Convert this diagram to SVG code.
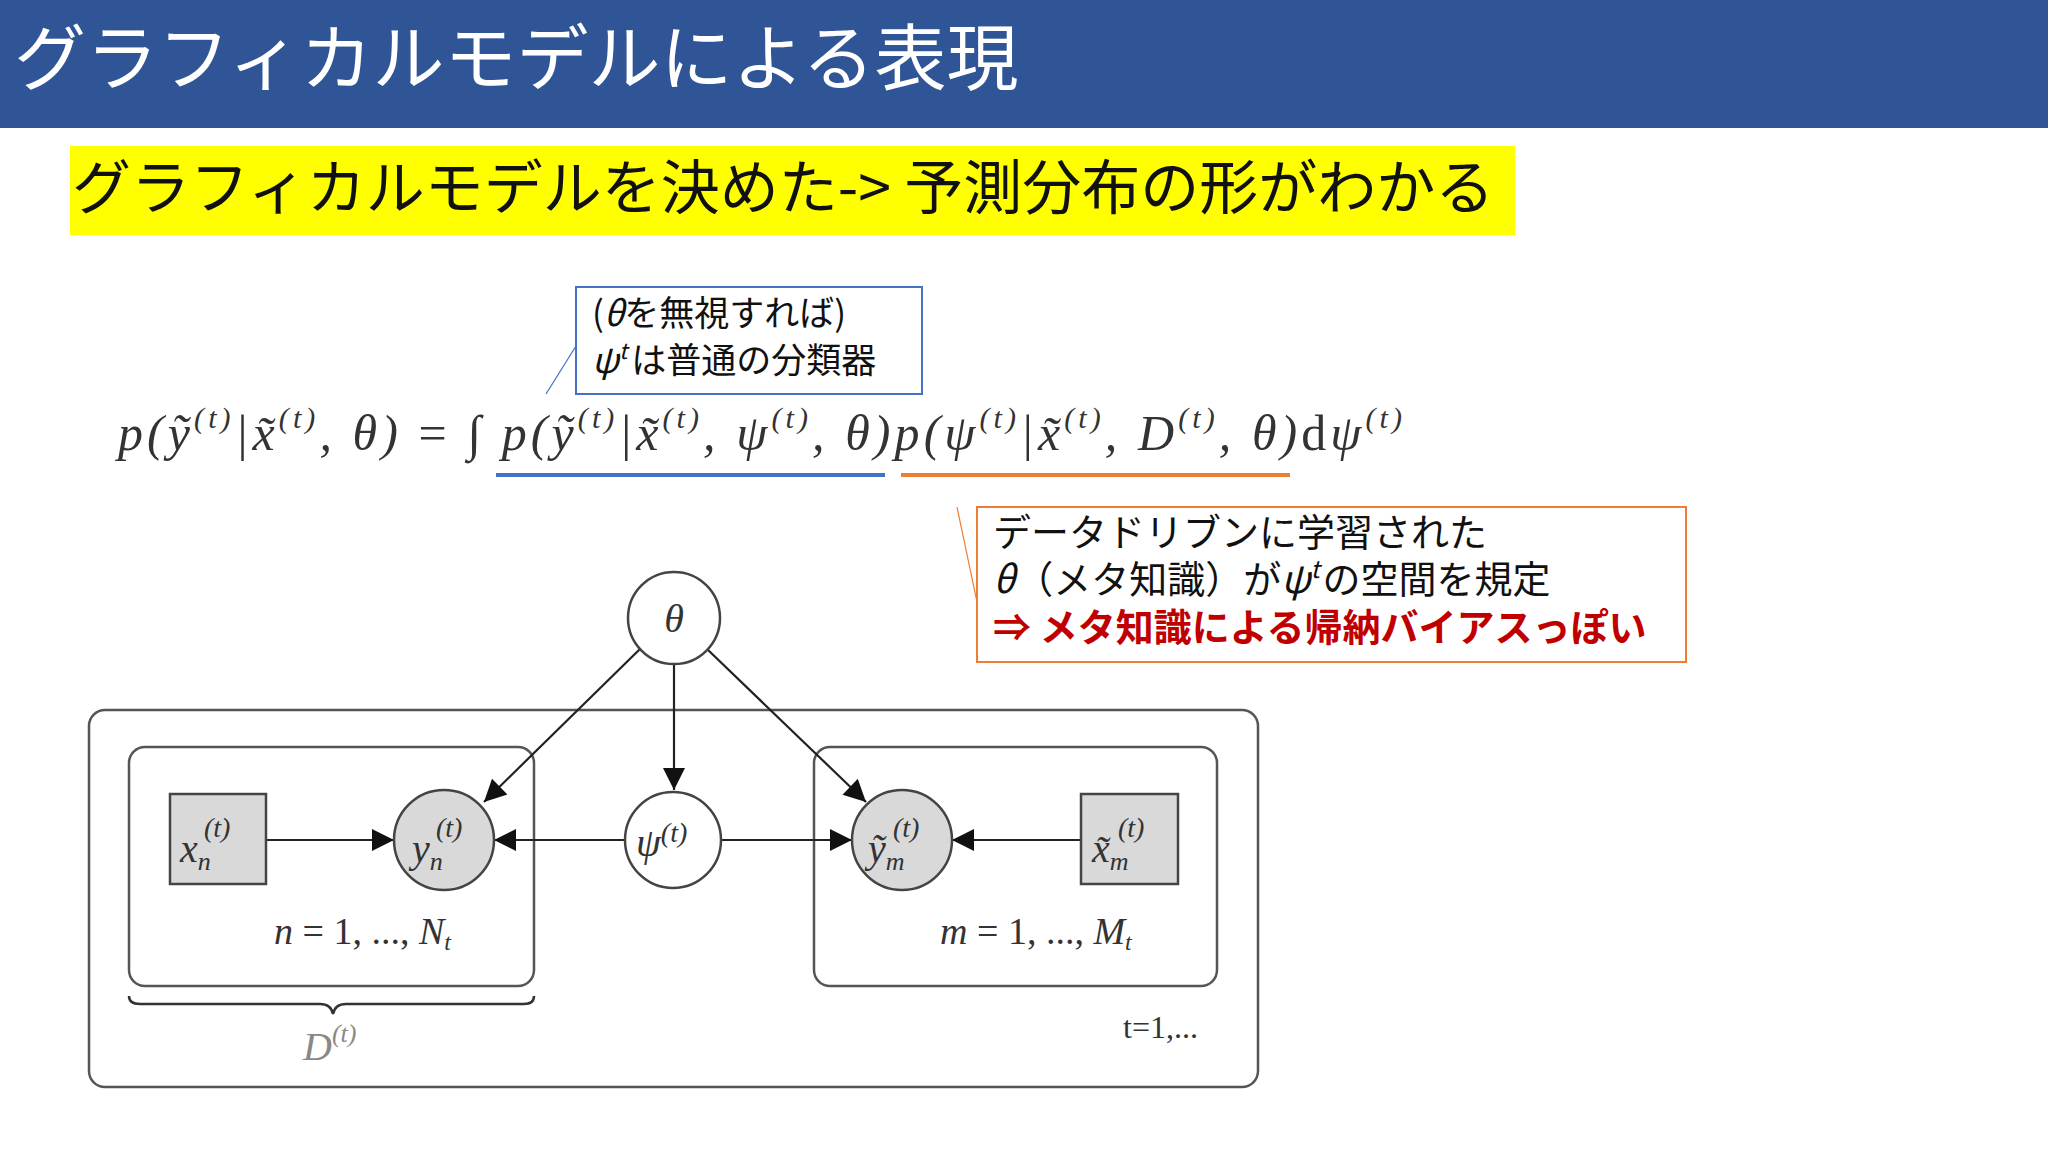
<svg xmlns="http://www.w3.org/2000/svg" width="2048" height="1152" viewBox="0 0 2048 1152">
<defs>
<marker id="a" viewBox="0 0 10 10" refX="10" refY="5" markerWidth="24" markerHeight="22" markerUnits="userSpaceOnUse" orient="auto"><path d="M0,0 L10,5 L0,10 z" fill="#111"/></marker>
<style>
.jp{font-family:"Noto Sans CJK JP","Noto Sans",sans-serif}
.m{font-family:"Liberation Serif",serif;font-style:italic;fill:#333}
.plate{fill:none;stroke:#555;stroke-width:2.5}
.node{stroke:#444;stroke-width:2.5}
.edge{stroke:#222;stroke-width:2.2;fill:none;marker-end:url(#a)}
</style>
</defs>
<rect width="2048" height="1152" fill="#fff"/>
<g id="header">
<rect x="0" y="0" width="2048" height="128" fill="#2F5597"/>
<text x="14" y="84" class="jp" font-size="72" fill="#fff">グラフィカルモデルによる表現</text>
</g>
<g id="subtitle">
<rect x="70" y="146" width="1445" height="89" fill="#FFFF00"/>
<text x="72" y="209" class="jp" font-size="59" fill="#111">グラフィカルモデルを決めた-&gt; 予測分布の形がわかる</text>
</g>
<g id="equation">
<text x="118" y="450" class="m" font-size="50" textLength="1284" lengthAdjust="spacing">p(ỹ<tspan font-size="30" dy="-22">(t)</tspan><tspan dy="22">|x̃</tspan><tspan font-size="30" dy="-22">(t)</tspan><tspan dy="22">, θ) </tspan><tspan font-style="normal">= ∫ </tspan>p(ỹ<tspan font-size="30" dy="-22">(t)</tspan><tspan dy="22">|x̃</tspan><tspan font-size="30" dy="-22">(t)</tspan><tspan dy="22">, ψ</tspan><tspan font-size="30" dy="-22">(t)</tspan><tspan dy="22">, θ)p(ψ</tspan><tspan font-size="30" dy="-22">(t)</tspan><tspan dy="22">|x̃</tspan><tspan font-size="30" dy="-22">(t)</tspan><tspan dy="22">, D</tspan><tspan font-size="30" dy="-22">(t)</tspan><tspan dy="22">, θ)<tspan font-style="normal">d</tspan>ψ</tspan><tspan font-size="30" dy="-22">(t)</tspan></text>
<line x1="496" y1="475" x2="885" y2="475" stroke="#4472C4" stroke-width="4"/>
<line x1="901" y1="475" x2="1290" y2="475" stroke="#ED7D31" stroke-width="4"/>
</g>
<g id="note-blue">
<rect x="576" y="287" width="346" height="107" fill="#fff" stroke="#4472C4" stroke-width="2"/>
<line x1="576" y1="346" x2="546" y2="394" stroke="#4472C4" stroke-width="1.2"/>
<text x="592" y="326" class="jp" font-size="35" fill="#111">(<tspan font-style="italic">θ</tspan>を無視すれば)</text>
<text x="592" y="373" class="jp" font-size="35" fill="#111"><tspan font-style="italic">ψ</tspan><tspan font-size="22" dy="-14" font-style="italic">t</tspan><tspan dy="14" dx="4">は普通の分類器</tspan></text>
</g>
<g id="note-orange">
<rect x="977" y="507" width="709" height="155" fill="#fff" stroke="#ED7D31" stroke-width="2"/>
<line x1="957" y1="507" x2="977" y2="602" stroke="#ED7D31" stroke-width="1.2"/>
<text x="993" y="546" class="jp" font-size="38" fill="#111">データドリブンに学習された</text>
<text x="993" y="593" class="jp" font-size="38" fill="#111"><tspan font-style="italic">θ</tspan>（メタ知識）が<tspan font-style="italic">ψ</tspan><tspan font-size="24" dy="-15" font-style="italic">t</tspan><tspan dy="15" dx="3">の空間を規定</tspan></text>
<text x="993" y="641" class="jp" font-size="38" fill="#C00000" font-weight="bold">⇒  メタ知識による帰納バイアスっぽい</text>
</g>
<g id="plates">
<rect x="89" y="710" width="1169" height="377" rx="16" class="plate"/>
<rect x="129" y="747" width="405" height="239" rx="16" class="plate"/>
<rect x="814" y="747" width="403" height="239" rx="16" class="plate"/>
<text x="274" y="944" class="m" font-size="38">n <tspan font-style="normal">= 1, ..., </tspan>N<tspan font-size="24" dy="6">t</tspan></text>
<text x="940" y="944" class="m" font-size="38">m <tspan font-style="normal">= 1, ..., </tspan>M<tspan font-size="24" dy="6">t</tspan></text>
<text x="1123" y="1038" font-family="Liberation Serif,serif" font-size="32" fill="#333">t=1,...</text>
<path d="M129,996 Q129,1004 140,1004 L320,1004 Q331,1004 333,1014 Q335,1004 346,1004 L524,1004 Q534,1004 534,996" fill="none" stroke="#333" stroke-width="2.5"/>
<text x="303" y="1060" class="m" font-size="40" style="fill:#888">D<tspan font-size="26" dy="-18">(t)</tspan></text>
</g>
<g id="connectors">
<line x1="640" y1="649" x2="484" y2="802" class="edge"/>
<line x1="674" y1="664" x2="674" y2="790" class="edge"/>
<line x1="707" y1="649" x2="866" y2="802" class="edge"/>
<line x1="266" y1="840" x2="394" y2="840" class="edge"/>
<line x1="625" y1="840" x2="494" y2="840" class="edge"/>
<line x1="721" y1="840" x2="852" y2="840" class="edge"/>
<line x1="1081" y1="840" x2="952" y2="840" class="edge"/>
</g>
<g id="theta">
<circle cx="674" cy="618" r="46" fill="#fff" class="node"/>
<text x="674" y="632" class="m" font-size="40" text-anchor="middle">θ</text>
</g>
<g id="x_n">
<rect x="170" y="794" width="96" height="90" fill="#d9d9d9" class="node"/>
<text x="180" y="862" class="m" font-size="40">x<tspan font-size="26" dy="8">n</tspan></text>
<text x="204" y="837" class="m" font-size="28">(t)</text>
</g>
<g id="y_n">
<circle cx="444" cy="840" r="50" fill="#d9d9d9" class="node"/>
<text x="412" y="862" class="m" font-size="40">y<tspan font-size="26" dy="8">n</tspan></text>
<text x="436" y="837" class="m" font-size="28">(t)</text>
</g>
<g id="psi">
<circle cx="673" cy="840" r="48" fill="#fff" class="node"/>
<text x="636" y="856" class="m" font-size="40">ψ<tspan font-size="28" dy="-14">(t)</tspan></text>
</g>
<g id="ytilde_m">
<circle cx="902" cy="840" r="50" fill="#d9d9d9" class="node"/>
<text x="868" y="862" class="m" font-size="40">ỹ<tspan font-size="26" dy="8">m</tspan></text>
<text x="893" y="837" class="m" font-size="28">(t)</text>
</g>
<g id="xtilde_m">
<rect x="1081" y="794" width="97" height="90" fill="#d9d9d9" class="node"/>
<text x="1092" y="862" class="m" font-size="40">x̃<tspan font-size="26" dy="8">m</tspan></text>
<text x="1118" y="837" class="m" font-size="28">(t)</text>
</g>
</svg>
